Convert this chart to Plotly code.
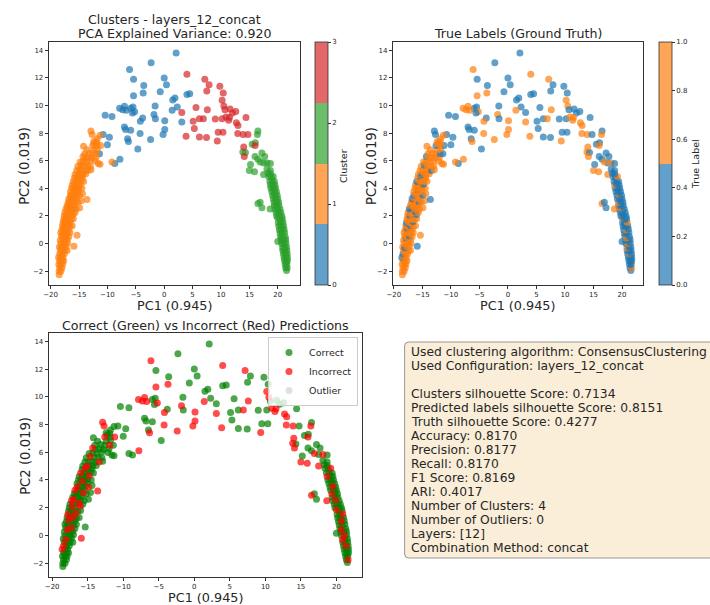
import plotly.graph_objects as go

W, H = 710, 605

# ---------------------------------------------------------------------------
# PCA coordinates of the embeddings, grouped by the consensus cluster they
# were assigned to. Each entry is (PC1, PC2, true_label).
# ---------------------------------------------------------------------------
cluster0_points = [
    (2.1, 13.8, 0), (-2.3, 13.1, 0), (-6.1, 12.6, 1), (-5.4, 11.9, 0),
    (-3.6, 11.45, 0), (-3.7, 10.9, 1), (-5.4, 10.7, 1), (0.0, 12.0, 0),
    (0.4, 11.5, 0), (-0.7, 11.0, 0), (4.0, 10.8, 0), (4.5, 10.85, 0),
    (1.9, 10.55, 0), (1.5, 10.4, 0), (2.3, 9.9, 0), (-1.6, 9.97, 0),
    (1.4, 9.65, 1), (-5.5, 9.9, 0), (-5.9, 9.8, 0), (-5.2, 9.55, 1),
    (-7.85, 9.8, 1), (-7.3, 9.7, 1), (-7.0, 9.95, 1), (-6.7, 9.65, 1),
    (-10.4, 9.3, 0), (-9.2, 9.2, 0), (-5.6, 9.45, 0), (-1.8, 9.35, 1),
    (-1.55, 9.05, 0), (0.1, 8.9, 1), (-3.8, 9.1, 0), (-4.2, 8.86, 1),
    (-7.0, 8.45, 0), (-6.8, 8.26, 0), (-5.9, 8.2, 0), (-4.25, 7.97, 1),
    (0.1, 8.26, 1), (-0.2, 7.9, 1), (-2.4, 7.53, 1), (-6.45, 7.6, 0),
    (-6.3, 7.4, 1), (-4.65, 6.85, 0), (-9.65, 7.7, 0), (-10.75, 7.9, 0),
    (-7.8, 6.1, 1), (-8.7, 5.8, 0), (3.1, 8.8, 1), (-11.4, 6.5, 0),
    (-10.0, 7.15, 0),
]

cluster1_points = [
    (-18.5, -2.25, 1),
    (-18.5, -2.0, 1), (-18.2, -2.0, 1),
    (-18.4, -1.75, 1), (-18.0, -1.75, 1),
    (-18.55, -1.5, 1), (-18.2, -1.5, 1), (-17.9, -1.5, 1),
    (-18.4, -1.25, 1), (-18.0, -1.25, 1), (-17.7, -1.25, 1),
    (-18.6, -1.0, 0), (-18.25, -1.0, 1), (-17.85, -1.0, 1),
    (-18.4, -0.75, 0), (-18.0, -0.75, 1), (-17.6, -0.75, 1),
    (-18.3, -0.5, 1), (-17.9, -0.5, 1), (-17.5, -0.5, 1), (-17.1, -0.5, 1),
    (-18.45, -0.25, 1), (-18.1, -0.3, 0), (-17.7, -0.25, 1), (-17.3, -0.2, 1),
    (-18.2, 0.0, 1), (-17.8, 0.05, 1), (-17.4, 0.0, 1), (-17.0, 0.05, 1),
    (-15.9, -0.2, 0),
    (-18.3, 0.25, 1), (-17.9, 0.4, 0), (-17.5, 0.25, 1), (-17.1, 0.3, 1),
    (-18.1, 0.55, 1), (-17.7, 0.5, 1), (-17.3, 0.55, 0), (-16.8, 0.5, 1),
    (-15.35, 0.6, 1),
    (-18.2, 0.8, 1), (-17.8, 0.75, 1), (-17.4, 0.8, 1), (-17.0, 0.75, 1),
    (-16.6, 0.8, 1),
    (-18.0, 1.0, 1), (-17.7, 1.13, 0), (-17.2, 1.0, 1), (-16.8, 1.05, 1),
    (-17.9, 1.3, 1), (-17.5, 1.25, 1), (-17.1, 1.3, 0), (-16.6, 1.25, 1),
    (-16.2, 1.3, 1),
    (-17.8, 1.5, 0), (-17.4, 1.55, 1), (-17.0, 1.5, 1), (-16.65, 1.6, 0),
    (-17.7, 1.75, 1), (-17.3, 1.8, 1), (-16.9, 1.75, 1), (-16.4, 1.75, 1),
    (-16.0, 1.8, 1),
    (-17.6, 2.0, 1), (-17.2, 2.05, 0), (-16.8, 2.0, 1), (-16.05, 2.1, 0),
    (-17.5, 2.25, 1), (-17.05, 2.3, 1), (-16.6, 2.25, 1), (-16.2, 2.3, 0),
    (-15.7, 2.25, 1),
    (-17.3, 2.5, 0), (-17.0, 2.6, 0), (-16.4, 2.5, 1), (-16.0, 2.55, 1),
    (-15.5, 2.5, 1), (-14.9, 2.6, 1),
    (-17.1, 2.75, 1), (-16.7, 2.8, 1), (-16.3, 2.75, 1), (-15.8, 2.8, 1),
    (-16.9, 3.0, 1), (-16.6, 3.05, 1), (-16.1, 3.0, 1), (-15.6, 3.05, 0),
    (-15.2, 3.0, 1), (-14.6, 3.1, 1),
    (-13.6, 3.2, 0),
    (-16.8, 3.25, 0), (-16.4, 3.3, 1), (-16.0, 3.25, 1), (-15.5, 3.3, 1),
    (-16.5, 3.5, 0), (-16.2, 3.55, 1), (-15.8, 3.5, 1), (-15.3, 3.55, 1),
    (-14.9, 3.5, 0), (-14.4, 3.6, 1),
    (-16.5, 3.75, 1), (-15.8, 3.9, 0), (-15.6, 3.75, 1), (-15.1, 3.8, 1),
    (-16.3, 4.0, 1), (-15.9, 4.05, 1), (-15.4, 4.0, 1), (-15.0, 4.05, 1),
    (-14.5, 4.0, 1),
    (-16.2, 4.25, 1), (-15.7, 4.3, 1), (-15.3, 4.25, 1), (-14.8, 4.3, 0),
    (-16.0, 4.5, 0), (-15.5, 4.55, 1), (-15.1, 4.5, 1), (-14.6, 4.55, 1),
    (-14.2, 4.5, 1),
    (-15.8, 4.75, 1), (-15.35, 4.86, 0), (-14.9, 4.75, 1), (-14.4, 4.8, 1),
    (-15.7, 5.0, 1), (-15.1, 5.0, 0), (-14.7, 5.05, 1), (-14.3, 5.0, 1),
    (-13.8, 5.05, 1),
    (-15.4, 5.3, 1), (-14.9, 5.3, 1), (-14.4, 5.35, 1), (-13.9, 5.3, 1),
    (-13.4, 5.3, 0), (-12.9, 5.35, 1),
    (-15.2, 5.6, 1), (-14.65, 5.7, 0), (-14.1, 5.6, 1), (-13.5, 5.65, 1),
    (-13.0, 5.6, 1),
    (-14.8, 5.9, 1), (-14.3, 5.95, 1), (-13.7, 5.9, 1), (-13.0, 6.03, 1),
    (-12.15, 5.98, 1), (-11.6, 5.8, 1), (-11.3, 5.75, 1),
    (-14.3, 6.3, 0), (-13.9, 6.2, 1), (-13.4, 6.25, 1), (-12.8, 6.2, 1),
    (-12.0, 6.25, 1),
    (-14.0, 6.5, 1), (-13.2, 6.55, 1), (-12.6, 6.5, 1), (-11.9, 6.5, 0),
    (-13.6, 6.8, 1), (-12.4, 6.8, 1), (-11.8, 6.85, 1),
    (-14.2, 7.05, 1), (-12.6, 7.1, 0), (-11.2, 7.1, 0), (-11.85, 7.1, 1),
    (-12.3, 7.25, 1),
    (-12.4, 7.4, 1), (-11.9, 7.35, 1),
    (-11.8, 7.6, 1),
    (-12.7, 7.9, 0), (-11.3, 7.85, 1),
    (-12.9, 8.16, 0),
    (-9.2, 5.9, 1),
]

cluster2_points = [
    (21.55, -1.95, 0),
    (21.4, -1.75, 0), (21.65, -1.75, 1),
    (21.3, -1.5, 0), (21.6, -1.5, 0),
    (21.2, -1.25, 0), (21.5, -1.3, 0), (21.7, -1.25, 0),
    (21.1, -1.0, 0), (21.45, -1.0, 0), (21.7, -1.0, 0),
    (21.0, -0.75, 0), (21.35, -0.75, 1), (21.65, -0.75, 0),
    (20.9, -0.5, 0), (21.25, -0.5, 0), (21.6, -0.5, 0),
    (20.85, -0.3, 1), (21.2, -0.25, 0), (21.55, -0.25, 0),
    (20.7, 0.0, 0), (21.1, 0.0, 1), (21.45, 0.05, 0),
    (20.0, 0.15, 0),
    (20.6, 0.25, 0), (21.0, 0.25, 0), (21.4, 0.3, 0),
    (20.5, 0.5, 0), (20.7, 0.4, 1), (21.3, 0.5, 0),
    (20.4, 0.75, 0), (20.8, 0.75, 0), (21.2, 0.8, 0),
    (20.3, 1.0, 0), (20.7, 1.0, 1), (21.1, 1.05, 0),
    (20.2, 1.25, 0), (20.6, 1.25, 0), (21.0, 1.3, 0),
    (20.1, 1.5, 0), (20.5, 1.5, 0), (20.9, 1.55, 1),
    (20.0, 1.85, 1), (20.4, 1.75, 0), (20.8, 1.8, 0),
    (19.8, 2.0, 0), (20.2, 2.05, 0), (20.7, 2.0, 0),
    (19.7, 2.25, 0), (20.1, 2.3, 0), (20.55, 2.25, 0),
    (19.5, 2.5, 0), (19.9, 2.55, 1), (20.4, 2.5, 0),
    (19.4, 2.75, 0), (19.8, 2.8, 0), (20.2, 2.75, 0),
    (19.35, 3.0, 1), (19.75, 3.05, 0), (20.15, 3.0, 0),
    (19.2, 3.25, 0), (19.6, 3.3, 0), (20.0, 3.25, 0),
    (19.1, 3.5, 0), (19.5, 3.55, 1), (19.9, 3.5, 0),
    (18.95, 3.75, 0), (19.35, 3.8, 0), (19.75, 3.75, 0),
    (18.8, 4.0, 0), (19.2, 4.05, 0), (19.6, 4.0, 0),
    (18.7, 4.25, 1), (19.1, 4.3, 0), (19.5, 4.25, 0),
    (18.6, 4.5, 0), (19.0, 4.55, 0), (19.4, 4.5, 0),
    (18.4, 4.85, 0), (18.85, 4.8, 0), (19.2, 4.85, 1),
    (17.5, 5.0, 1), (18.3, 5.1, 0), (18.7, 5.05, 0),
    (18.1, 5.4, 0), (18.7, 5.3, 0),
    (17.5, 5.84, 0), (18.1, 5.84, 1), (18.7, 5.8, 0),
    (16.5, 6.1, 0), (16.9, 5.9, 1),
    (15.2, 5.72, 0), (15.0, 5.3, 1), (15.9, 5.2, 1),
    (17.2, 6.56, 0), (17.7, 6.3, 0),
    (15.5, 7.2, 0), (16.05, 7.3, 0),
    (16.5, 8.15, 0), (16.4, 7.9, 1),
    (13.85, 6.64, 1), (14.3, 6.6, 0),
    (16.5, 2.9, 1), (16.9, 3.0, 0), (17.2, 2.6, 0),
    (18.65, 2.5, 1),
    (16.0, 6.3, 0),
]

cluster3_points = [
    (4.0, 12.26, 1), (7.15, 11.9, 1), (7.9, 11.5, 0), (9.8, 11.4, 0),
    (7.5, 11.05, 0), (10.4, 10.9, 0), (10.2, 10.38, 1), (10.5, 9.97, 1),
    (5.6, 9.85, 0), (7.6, 9.7, 1), (10.7, 9.7, 0), (11.6, 9.75, 0),
    (3.1, 9.5, 0), (12.0, 9.46, 0), (12.6, 9.56, 0), (5.1, 8.86, 0),
    (6.2, 9.05, 0), (6.9, 9.05, 1), (9.0, 9.03, 0), (10.2, 9.05, 0),
    (10.9, 9.17, 1), (11.5, 9.13, 1), (11.35, 8.93, 1), (12.7, 8.76, 1),
    (14.4, 9.13, 0), (5.3, 8.33, 0), (13.0, 8.55, 1), (9.5, 8.06, 0),
    (10.35, 8.06, 0), (12.95, 7.97, 1), (3.85, 7.77, 1), (6.2, 7.72, 0),
    (7.45, 7.68, 0), (9.35, 7.43, 1), (13.9, 7.9, 1), (14.75, 7.9, 0),
    (14.0, 7.0, 1), (14.1, 6.3, 1), (16.0, 7.1, 1),
]

# label each cluster was mapped to when scoring the predictions
cluster_to_label = {0: 0, 1: 1, 2: 0, 3: 0}

cluster_ticks = [0, 1, 2, 3]
truth_ticks = [0.0, 0.2, 0.4, 0.6, 0.8, 1.0]
pc1_ticks = [-20, -15, -10, -5, 0, 5, 10, 15, 20]
pc2_ticks = [-2, 0, 2, 4, 6, 8, 10, 12, 14]

summary_lines = [
    "Used clustering algorithm: ConsensusClustering",
    "Used Configuration: layers_12_concat",
    "",
    "Clusters silhouette Score: 0.7134",
    "Predicted labels silhouette Score: 0.8151",
    "Truth silhouette Score: 0.4277",
    "Accuracy: 0.8170",
    "Precision: 0.8177",
    "Recall: 0.8170",
    "F1 Score: 0.8169",
    "ARI: 0.4017",
    "Number of Clusters: 4",
    "Number of Outliers: 0",
    "Layers: [12]",
    "Combination Method: concat",
]

# ---------------------------------------------------------------------------
pc1, pc2, cluster_id, truth = [], [], [], []
for cid, pts in enumerate([cluster0_points, cluster1_points,
                           cluster2_points, cluster3_points]):
    for x, y, t in pts:
        pc1.append(x)
        pc2.append(y)
        cluster_id.append(cid)
        truth.append(t)

predicted = [cluster_to_label[c] for c in cluster_id]
is_correct = [p == t for p, t in zip(predicted, truth)]


def fx(px):
    return px / W


def fy(py):
    return 1 - py / H


TAB = ["rgba(31,119,180,0.7)", "rgba(255,127,14,0.7)",
       "rgba(44,160,44,0.7)", "rgba(214,39,40,0.7)"]
FONT = "DejaVu Sans"
TXT = "#262626"
TICK = 7

cluster_scale = [[0, TAB[0]], [0.25, TAB[0]], [0.25, TAB[1]], [0.5, TAB[1]],
                 [0.5, TAB[2]], [0.75, TAB[2]], [0.75, TAB[3]], [1, TAB[3]]]
truth_scale = [[0, TAB[0]], [0.5, TAB[0]], [0.5, TAB[1]], [1, TAB[1]]]

top_y, bot_y = 42, 285


def cbar(x_left, tickvals, ticktext):
    return dict(
        x=fx(x_left), xanchor="left", xpad=0, ypad=0,
        y=fy((top_y + bot_y) / 2), yanchor="middle",
        len=(bot_y - top_y) / H, lenmode="fraction",
        thickness=13, thicknessmode="pixels",
        outlinewidth=0.8, outlinecolor="#333",
        tickvals=tickvals, ticktext=ticktext,
        ticks="outside", ticklen=3, tickwidth=0.8, tickcolor="#333",
        tickfont=dict(size=TICK, color=TXT, family=FONT),
    )


fig = go.Figure()

# Panel 1: consensus clusters
fig.add_trace(go.Scatter(
    x=pc1, y=pc2, mode="markers", xaxis="x", yaxis="y", showlegend=False,
    marker=dict(size=7, color=cluster_id, colorscale=cluster_scale,
                cmin=0, cmax=3, line=dict(width=0), showscale=True,
                colorbar=cbar(312, cluster_ticks,
                              [str(v) for v in cluster_ticks])),
))

# Panel 2: ground truth labels
fig.add_trace(go.Scatter(
    x=pc1, y=pc2, mode="markers", xaxis="x2", yaxis="y2", showlegend=False,
    marker=dict(size=7, color=truth, colorscale=truth_scale,
                cmin=0, cmax=1, line=dict(width=0), showscale=True,
                colorbar=cbar(659, truth_ticks,
                              [f"{v:.1f}" for v in truth_ticks])),
))

# Panel 3: correct vs incorrect predictions
ok_x = [x for x, c in zip(pc1, is_correct) if c]
ok_y = [y for y, c in zip(pc2, is_correct) if c]
bad_x = [x for x, c in zip(pc1, is_correct) if not c]
bad_y = [y for y, c in zip(pc2, is_correct) if not c]
fig.add_trace(go.Scatter(
    x=ok_x, y=ok_y, mode="markers", name="Correct", xaxis="x3", yaxis="y3",
    marker=dict(size=7, color="rgba(0,128,0,0.7)", line=dict(width=0)),
))
fig.add_trace(go.Scatter(
    x=bad_x, y=bad_y, mode="markers", name="Incorrect", xaxis="x3", yaxis="y3",
    marker=dict(size=7, color="rgba(255,0,0,0.7)", line=dict(width=0)),
))
fig.add_trace(go.Scatter(
    x=[None], y=[None], mode="markers", name="Outlier", xaxis="x3", yaxis="y3",
    marker=dict(size=7, color="rgba(211,211,211,0.7)", line=dict(width=0)),
))


def xax(x0, x1, rng, anchor):
    return dict(domain=[fx(x0), fx(x1)], range=rng, anchor=anchor,
                tickvals=pc1_ticks,
                ticks="outside", ticklen=3, tickwidth=0.8, tickcolor="#333",
                tickfont=dict(size=TICK, color=TXT, family=FONT),
                showline=True, mirror=True, linecolor="#333", linewidth=0.8,
                showgrid=False, zeroline=False)


def yax(y_top, y_bot, anchor):
    return dict(domain=[fy(y_bot), fy(y_top)], range=[-3.0, 14.6],
                anchor=anchor, tickvals=pc2_ticks,
                ticks="outside", ticklen=3, tickwidth=0.8, tickcolor="#333",
                tickfont=dict(size=TICK, color=TXT, family=FONT),
                showline=True, mirror=True, linecolor="#333", linewidth=0.8,
                showgrid=False, zeroline=False)


annotations = []


def label(text, px, py, size, angle=0):
    annotations.append(dict(
        text=text, x=fx(px), y=fy(py), xref="paper", yref="paper",
        xanchor="center", yanchor="middle", showarrow=False, textangle=angle,
        font=dict(size=size, color=TXT, family=FONT)))


# titles
label("Clusters - layers_12_concat", 170, 19, 12.6)
label("PCA Explained Variance: 0.920", 170, 33, 12.6)
label("True Labels (Ground Truth)", 516, 33, 12.6)
label("Correct (Green) vs Incorrect (Red) Predictions", 201, 325, 12.6)
# axis titles
label("PC1 (0.945)", 170, 305, 12.8)
label("PC1 (0.945)", 516, 305, 12.8)
label("PC1 (0.945)", 201, 597.5, 12.8)
label("PC2 (0.019)", 19, 166, 13.2, -90)
label("PC2 (0.019)", 369, 166, 13.2, -90)
label("PC2 (0.019)", 19, 456, 13.2, -90)
# colorbar titles
label("Cluster", 341, 166, 9.5, -90)
label("True Label", 695, 164, 9.5, -90)

# metrics summary box
box_l, box_t, box_r, box_b, rad = 402, 342, 716, 558, 4
for i, line in enumerate(summary_lines):
    if not line:
        continue
    annotations.append(dict(
        text=line, x=fx(406), y=fy(351.7 + i * 14.04), xref="paper",
        yref="paper", xanchor="left", yanchor="middle", showarrow=False,
        font=dict(size=12.3, color=TXT, family=FONT)))


def rounded_rect(l, t, r, b, rr):
    pts = [
        f"M {fx(l + rr)} {fy(t)}", f"L {fx(r - rr)} {fy(t)}",
        f"Q {fx(r)} {fy(t)} {fx(r)} {fy(t + rr)}",
        f"L {fx(r)} {fy(b - rr)}",
        f"Q {fx(r)} {fy(b)} {fx(r - rr)} {fy(b)}",
        f"L {fx(l + rr)} {fy(b)}",
        f"Q {fx(l)} {fy(b)} {fx(l)} {fy(b - rr)}",
        f"L {fx(l)} {fy(t + rr)}",
        f"Q {fx(l)} {fy(t)} {fx(l + rr)} {fy(t)} Z",
    ]
    return " ".join(pts)


fig.update_layout(
    width=W, height=H, margin=dict(l=0, r=0, t=0, b=0),
    paper_bgcolor="white", plot_bgcolor="white",
    font=dict(family=FONT, color=TXT),
    xaxis=xax(43, 297, [-20.35, 24.0], "y"),
    yaxis=yax(top_y, bot_y, "x"),
    xaxis2=xax(390, 642, [-20.2, 23.6], "y2"),
    yaxis2=yax(top_y, bot_y, "x2"),
    xaxis3=xax(43, 359, [-20.5, 23.6], "y3"),
    yaxis3=yax(333, 577, "x3"),
    legend=dict(x=fx(355), y=fy(337), xanchor="right", yanchor="top",
                xref="paper", yref="paper",
                bgcolor="rgba(255,255,255,0.8)", bordercolor="#cccccc",
                borderwidth=1, font=dict(size=9.5, color=TXT, family=FONT),
                itemsizing="trace", tracegroupgap=0),
    annotations=annotations,
    shapes=[dict(type="path", xref="paper", yref="paper",
                 path=rounded_rect(box_l, box_t, box_r, box_b, rad),
                 fillcolor="rgba(245,222,179,0.5)",
                 line=dict(color="rgba(128,128,128,0.8)", width=1),
                 layer="below")],
)

fig.write_html("out.html")
